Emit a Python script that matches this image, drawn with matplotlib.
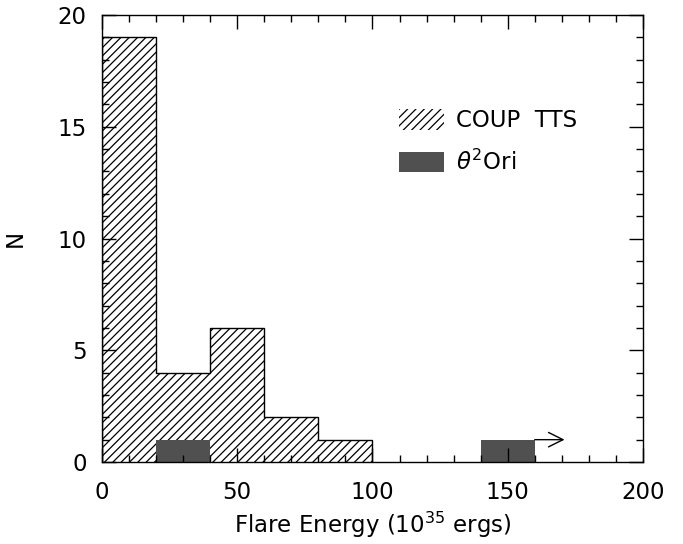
import numpy as np
import matplotlib
matplotlib.use("Agg")
import matplotlib.pyplot as plt
from matplotlib.patches import Patch

plt.rcParams["font.family"] = ["DejaVu Sans"]
plt.rcParams["mathtext.fontset"] = "dejavusans"
plt.rcParams["hatch.linewidth"] = 0.9

# flare energy histogram, 20-unit bins from 0 to 200 (units of 1e35 ergs)
bin_edges = [0, 20, 40, 60, 80, 100, 120, 140, 160, 180, 200]
coup_counts = [19, 4, 6, 2, 1, 0, 0, 0, 0, 0]
ori_counts = [0, 1, 0, 0, 0, 0, 0, 1, 0, 0]
# lower limit on the largest theta2 Ori flare
arrow_from, arrow_to, arrow_y = 160, 171, 1

grey = "#505050"
fs = 16.5
edges = np.array(bin_edges)
left = edges[:-1]
width = np.diff(edges)

fig = plt.figure(figsize=(6.83, 5.44), dpi=100)
ax = fig.add_axes([0.1493, 0.1507, 0.7921, 0.8217])

ax.bar(left, coup_counts, width=width, align="edge", color="none",
       edgecolor="black", hatch="////", linewidth=0)
ax.stairs(coup_counts[:5], edges[:6], color="black", linewidth=1.0)
ax.bar(left, ori_counts, width=width, align="edge", color=grey, linewidth=0)
ax.annotate("", xy=(arrow_to, arrow_y), xytext=(arrow_from, arrow_y),
            arrowprops=dict(arrowstyle="->", color="black", lw=1.0,
                            shrinkA=0, shrinkB=0, mutation_scale=26))

ax.set_xlim(0, 200)
ax.set_ylim(0, 20)
ax.set_xticks([0, 50, 100, 150, 200])
ax.set_xticks(np.arange(0, 201, 10), minor=True)
ax.set_yticks([0, 5, 10, 15, 20])
ax.set_yticks(np.arange(0, 21, 1), minor=True)
ax.tick_params(which="both", direction="in", top=True, right=True,
               width=1.0, labelsize=fs, colors="black")
ax.tick_params(axis="x", which="major", length=10, pad=14)
ax.tick_params(axis="y", which="major", length=10, pad=11)
ax.tick_params(which="minor", length=5)
for s in ax.spines.values():
    s.set_linewidth(1.0)

ax.set_xlabel("Flare Energy (10$^{35}$ ergs)", fontsize=fs, labelpad=4)
ax.set_ylabel("N", fontsize=fs, labelpad=22)

handles = [Patch(facecolor="white", edgecolor="black", hatch="////", linewidth=0),
           Patch(facecolor=grey, linewidth=0)]
ax.legend(handles, ["COUP  TTS", r"$\theta^{2}$Ori"], loc="upper left",
          bbox_to_anchor=(0.51, 0.835), frameon=False, fontsize=fs,
          handlelength=2.0, handleheight=1.0, handletextpad=0.5,
          labelspacing=0.75)

fig.savefig("out.png", dpi=100)
